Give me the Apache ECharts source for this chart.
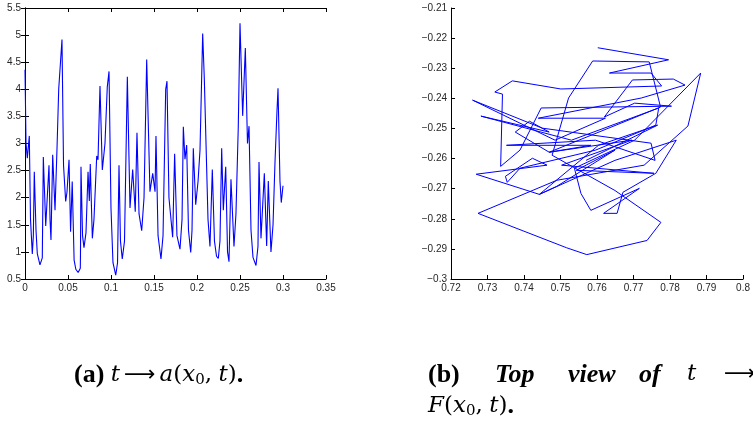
<!DOCTYPE html>
<html>
<head>
<meta charset="utf-8">
<script src="https://cdn.jsdelivr.net/npm/echarts@6/dist/echarts.min.js"></script>
<style>
  html, body { margin: 0; padding: 0; background: #fff; }
  #chart { width: 753px; height: 425px; }
</style>
</head>
<body>
<div id="chart"></div>
<script>
// (a) amplitude a(x0, t) over time
const timeVals = [
  0.0000, 0.0012, 0.0027, 0.0050, 0.0064, 0.0085, 0.0097, 0.0108, 0.0128, 0.0143,
  0.0174, 0.0201, 0.0213, 0.0241, 0.0279, 0.0291, 0.0302, 0.0322, 0.0349, 0.0372,
  0.0392, 0.0430, 0.0448, 0.0473, 0.0488, 0.0512, 0.0530, 0.0549, 0.0571, 0.0591,
  0.0618, 0.0643, 0.0645, 0.0651, 0.0669, 0.0686, 0.0709, 0.0733, 0.0748, 0.0759,
  0.0783, 0.0802, 0.0834, 0.0849, 0.0872, 0.0899, 0.0930, 0.0957, 0.0977, 0.1000,
  0.1023, 0.1055, 0.1076, 0.1093, 0.1110, 0.1131, 0.1157, 0.1190, 0.1221, 0.1252,
  0.1282, 0.1302, 0.1326, 0.1357, 0.1384, 0.1415, 0.1453, 0.1485, 0.1512, 0.1523,
  0.1547, 0.1581, 0.1605, 0.1636, 0.1651, 0.1674, 0.1717, 0.1740, 0.1767, 0.1802,
  0.1826, 0.1841, 0.1860, 0.1880, 0.1901, 0.1927, 0.1942, 0.1957, 0.1985, 0.2012,
  0.2035, 0.2066, 0.2085, 0.2105, 0.2128, 0.2151, 0.2178, 0.2203, 0.2227, 0.2248,
  0.2267, 0.2287, 0.2306, 0.2334, 0.2355, 0.2372, 0.2395, 0.2430, 0.2453, 0.2480,
  0.2500, 0.2531, 0.2562, 0.2587, 0.2605, 0.2628, 0.2651, 0.2686, 0.2709, 0.2721,
  0.2744, 0.2783, 0.2810, 0.2829, 0.2860, 0.2884, 0.2907, 0.2930, 0.2942, 0.2965,
  0.2980, 0.3000
];
const ampVals = [
  4.36, 3.00, 2.73, 3.14, 1.60, 0.96, 1.30, 2.48, 1.40, 0.97,
  0.76, 0.89, 2.75, 1.48, 2.60, 1.60, 1.22, 2.79, 1.77, 2.90,
  4.00, 4.92, 2.60, 1.93, 2.10, 2.70, 1.37, 2.30, 0.85, 0.68,
  0.62, 0.70, 0.95, 2.57, 1.30, 1.08, 1.35, 2.48, 1.94, 2.62,
  1.25, 1.60, 2.77, 2.70, 4.06, 2.51, 3.00, 4.05, 4.33, 1.80,
  0.80, 0.57, 0.80, 2.60, 1.20, 0.87, 1.20, 4.23, 1.81, 2.52,
  1.74, 3.20, 1.70, 1.39, 2.00, 4.55, 2.11, 2.45, 2.11, 3.14,
  1.30, 0.87, 1.30, 4.00, 4.15, 2.00, 1.27, 2.81, 1.30, 1.05,
  1.60, 3.31, 2.71, 2.97, 1.40, 0.99, 1.40, 2.91, 1.87, 2.30,
  2.88, 5.03, 4.20, 4.19, 1.60, 1.10, 2.52, 1.20, 0.92, 0.88,
  1.20, 2.91, 1.77, 2.57, 1.00, 0.82, 2.34, 1.10, 1.70, 3.31,
  5.22, 3.51, 4.76, 3.00, 3.32, 1.40, 0.90, 0.75, 1.10, 2.66,
  1.25, 2.45, 1.11, 2.31, 1.00, 1.50, 2.66, 3.60, 4.02, 2.30,
  1.91, 2.22
];
const ampTicksX = [0, 0.35, 0.05];   // min, max, step
const ampTicksY = [0.5, 5.5, 0.5];

// (b) top view of the trajectory F(x0, t)
const topX = [
  0.7602, 0.7796, 0.7634, 0.7748, 0.7777, 0.7501, 0.7368, 0.7320, 0.7341, 0.7336,
  0.7389, 0.7447, 0.7804, 0.7703, 0.7620, 0.7697, 0.7809, 0.7841, 0.7721, 0.7439,
  0.7623, 0.7485, 0.7259, 0.7450, 0.7748, 0.7759, 0.7596, 0.7352, 0.7583, 0.7469,
  0.7376, 0.7415, 0.7469, 0.7282, 0.7530, 0.7769, 0.7761, 0.7596, 0.7389, 0.7354,
  0.7349, 0.7423, 0.7463, 0.7269, 0.7442, 0.7649, 0.7817, 0.7761, 0.7671, 0.7655,
  0.7618, 0.7716, 0.7583, 0.7556, 0.7538, 0.7703, 0.7884, 0.7849, 0.7729, 0.7490,
  0.7274, 0.7516, 0.7572, 0.7737, 0.7775, 0.7649, 0.7477, 0.7522, 0.7588, 0.7743,
  0.7774, 0.7469, 0.7695, 0.7503, 0.7756, 0.7543, 0.7649, 0.7490, 0.7442, 0.7604,
  0.7766, 0.7570
];
const topY = [
  -0.2232, -0.2272, -0.2316, -0.2316, -0.2359, -0.2369, -0.2342, -0.2379, -0.2386, -0.2626,
  -0.2572, -0.2432, -0.2426, -0.2416, -0.2462, -0.2339, -0.2336, -0.2356, -0.2399, -0.2466,
  -0.2466, -0.2539, -0.2406, -0.2499, -0.2549, -0.2606, -0.2539, -0.2556, -0.2556, -0.2579,
  -0.2512, -0.2476, -0.2512, -0.2459, -0.2539, -0.2432, -0.2489, -0.2572, -0.2632, -0.2679,
  -0.2659, -0.2599, -0.2622, -0.2652, -0.2719, -0.2606, -0.2539, -0.2649, -0.2712, -0.2782,
  -0.2782, -0.2699, -0.2772, -0.2716, -0.2632, -0.2539, -0.2316, -0.2492, -0.2622, -0.2672,
  -0.2782, -0.2896, -0.2919, -0.2872, -0.2812, -0.2706, -0.2589, -0.2399, -0.2276, -0.2279,
  -0.2429, -0.2579, -0.2539, -0.2622, -0.2649, -0.2639, -0.2572, -0.2692, -0.2719, -0.2556,
  -0.2489, -0.2606
];
const topTicksX = [0.72, 0.80, 0.01];
const topTicksY = [-0.30, -0.21, 0.01];

const LINE_BLUE = '#0000ff';
const AXIS_INK = '#000';
const LABEL_INK = '#262626';
const SANS = '"Liberation Sans", Arial, Helvetica, sans-serif';
const SERIF = '"Liberation Serif", serif';
const MATH = '"DejaVu Serif", serif';
const ARROW = '"DejaVu Sans", sans-serif';
const CAP = 26;
const MCAP = 23;

function fmt(v) {
  const s = String(Math.round(v * 100000) / 100000);
  return s.replace('-', '\u2212');
}

function axisBase(extra) {
  return Object.assign({
    type: 'value',
    axisLine: { show: true, lineStyle: { color: AXIS_INK, width: 1 } },
    axisTick: { show: true, inside: true, length: 4, lineStyle: { color: AXIS_INK, width: 1 } },
    splitLine: { show: false },
    axisLabel: { show: true, color: LABEL_INK, fontSize: 10, fontFamily: SANS, margin: 4, formatter: fmt }
  }, extra);
}

const mathRich = {
  b: { fontWeight: 'bold', fontSize: CAP, fontFamily: SERIF },
  i: { fontStyle: 'italic', fontSize: MCAP, fontFamily: MATH },
  n: { fontSize: MCAP, fontFamily: MATH },
  w: { fontSize: 22, fontFamily: ARROW, padding: [0, 4, 0, 4] },
  s: { fontSize: 15, fontFamily: MATH, padding: [11, 0, 0, 0] }
};

const chart = echarts.init(document.getElementById('chart'), null, { renderer: 'canvas' });

const aSeries = timeVals.map((t, i) => [t, ampVals[i]]);
const topSeries = topX.map((x, i) => [x, topY[i]]);

function word(x, y, text, font, family, size) {
  return { type: 'text', x: x, y: y,
    style: { text: text, font: font + ' ' + (size || CAP) + 'px ' + (family || SERIF), fill: '#000' } };
}

chart.setOption({
  animation: false,
  backgroundColor: '#fff',
  grid: [
    { left: 25, top: 8, width: 301, height: 271 },
    { left: 451, top: 8, width: 301, height: 271 }
  ],
  xAxis: [
    axisBase({ gridIndex: 0, position: 'bottom', min: ampTicksX[0], max: ampTicksX[1], interval: ampTicksX[2] }),
    axisBase({ gridIndex: 0, position: 'top', min: ampTicksX[0], max: ampTicksX[1], interval: ampTicksX[2],
      axisLabel: { show: false } }),
    axisBase({ gridIndex: 1, position: 'bottom', min: topTicksX[0], max: topTicksX[1], interval: topTicksX[2] })
  ],
  yAxis: [
    axisBase({ gridIndex: 0, position: 'left', min: ampTicksY[0], max: ampTicksY[1], interval: ampTicksY[2] }),
    axisBase({ gridIndex: 0, position: 'right', min: ampTicksY[0], max: ampTicksY[1], interval: ampTicksY[2],
      axisLabel: { show: false } }),
    axisBase({ gridIndex: 1, position: 'left', min: topTicksY[0], max: topTicksY[1], interval: topTicksY[2] })
  ],
  series: [
    {
      type: 'line', xAxisIndex: 0, yAxisIndex: 0, data: aSeries,
      symbol: 'none', lineStyle: { color: LINE_BLUE, width: 1.1 }, silent: true
    },
    {
      type: 'line', xAxisIndex: 2, yAxisIndex: 2, data: topSeries,
      symbol: 'none', lineStyle: { color: LINE_BLUE, width: 1 }, silent: true
    }
  ],
  graphic: [
    {
      type: 'text', x: 74, y: 362,
      style: {
        text: '{b|(a)} {i|t}{w|\u27F6}{i|a}{n|(}{i|x}{s|0}{n|,} {i|t}{n|)}{b|.}',
        font: CAP + 'px ' + SERIF, fill: '#000', rich: mathRich
      }
    },
    word(428, 362, '(b)', 'bold'),
    word(495, 362, 'Top', 'italic bold'),
    word(568, 362, 'view', 'italic bold'),
    word(639, 362, 'of', 'italic bold'),
    word(687, 363, 't', 'italic', MATH, MCAP),
    word(724, 363, '\u27F6', 'normal', ARROW, 22),
    {
      type: 'text', x: 428, y: 393,
      style: {
        text: '{i|F}{n|(}{i|x}{s|0}{n|,} {i|t}{n|)}{b|.}',
        font: CAP + 'px ' + SERIF, fill: '#000', rich: mathRich
      }
    }
  ]
});
</script>
</body>
</html>
